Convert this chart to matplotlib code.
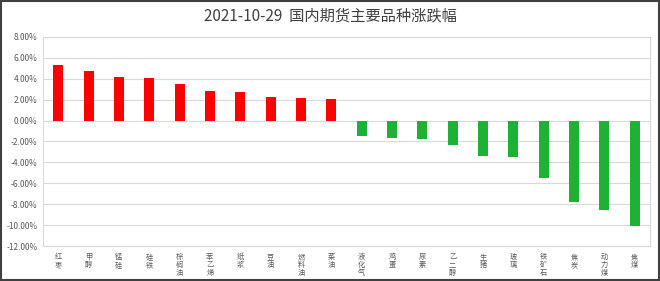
import matplotlib.pyplot as plt
from matplotlib.patches import Rectangle
from matplotlib.ticker import FuncFormatter

plt.rcParams["font.family"] = ["Noto Sans CJK SC", "DejaVu Sans"]

TITLE = "2021-10-29  国内期货主要品种涨跌幅"
names = ["红枣", "甲醇", "锰硅", "硅铁", "棕榈油", "苯乙烯", "纸浆", "豆油", "燃料油", "菜油",
         "液化气", "鸡蛋", "尿素", "乙二醇", "生猪", "玻璃", "铁矿石", "焦炭", "动力煤", "焦煤"]
changes = [5.35, 4.78, 4.22, 4.12, 3.52, 2.85, 2.72, 2.22, 2.16, 2.05,
           -1.45, -1.62, -1.75, -2.32, -3.42, -3.52, -5.5, -7.82, -8.6, -10.12]

RED = "#FF0000"
GREEN = "#1DB236"
GRID = "#D9D9D9"
LABEL = "#595959"

fig = plt.figure(figsize=(6.6, 2.81), dpi=100)
fig.patch.set_facecolor("white")
ax = fig.add_axes([43 / 660, 35 / 281, 607 / 660, 209 / 281])

colors = [RED if v >= 0 else GREEN for v in changes]
x = range(len(names))
ax.bar(x, changes, width=0.33, color=colors, zorder=3)

ax.set_ylim(-12, 8)
ax.set_xlim(-0.5, len(names) - 0.5)
ax.set_yticks(range(-12, 9, 2))
ax.yaxis.set_major_formatter(FuncFormatter(lambda v, _: f"{v:.2f}%"))
ax.tick_params(axis="y", length=0, labelsize=6, labelcolor=LABEL, pad=4)
ax.grid(axis="y", color=GRID, linewidth=0.8, zorder=0)

# vertical category labels, one character per line
ax.set_xticks(list(x))
ax.set_xticklabels([])
ax.tick_params(axis="x", length=0)
for i, name in zip(x, names):
    for j, ch in enumerate(name):
        ax.annotate(ch, xy=(i, 0), xycoords=("data", "axes fraction"),
                    xytext=(0, -5 - j * 5.8), textcoords="offset points",
                    ha="center", va="top", fontsize=5.2, color=LABEL)

for side in ["left", "right", "top", "bottom"]:
    ax.spines[side].set_color(GRID)
    ax.spines[side].set_linewidth(0.8)

fig.text(0.5, 1 - 16 / 281, TITLE, ha="center", va="center",
         fontsize=11, color="#404040", fontweight="medium")

fig.patches.append(Rectangle((0.002, 0.004), 0.996, 0.992, transform=fig.transFigure,
                             fill=False, edgecolor="#404040", linewidth=1.5))

fig.savefig("out.png", dpi=100, facecolor="white")
